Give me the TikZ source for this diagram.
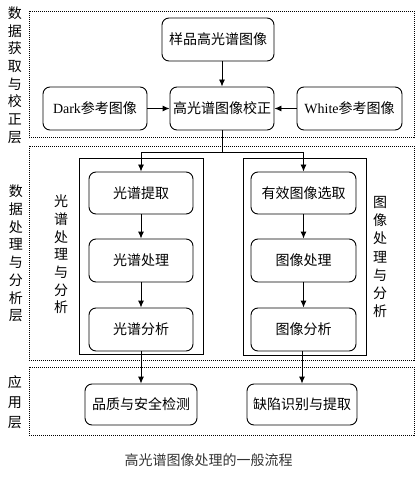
\documentclass[tikz,border=0pt]{standalone}
\usepackage{fontspec}
\setmainfont{Liberation Serif}
\newfontfamily\cjk{Noto Sans CJK SC}
\usetikzlibrary{arrows.meta}
\begin{document}
\begin{tikzpicture}[x=1pt,y=-1pt,
  box/.style={draw, rounded corners=7pt, line width=0.9pt, minimum height=43pt, inner sep=0pt, font=\cjk\fontsize{14}{16}\selectfont},
  layer/.style={draw, dash pattern=on 1pt off 1pt, line width=0.9pt},
  frame/.style={draw, line width=0.9pt},
  conn/.style={line width=0.9pt, -{Latex[length=7pt,width=6pt]}},
  vlab/.style={align=center, inner sep=0pt, font=\cjk\fontsize{14}{17.7}\selectfont}
]
\useasboundingbox (0,0) rectangle (419,478);
% layers
\draw[layer] (29,11) rectangle (414,137);
\draw[layer] (29,146) rectangle (414,360);
\draw[layer] (29,367) rectangle (414,435);
\node[vlab] (l1) at (15,75) {数\\据\\获\\取\\与\\校\\正\\层};
\node[vlab] (l2) at (16,253.5) {数\\据\\处\\理\\与\\分\\析\\层};
\node[vlab, font=\cjk\fontsize{14}{20}\selectfont] (l3) at (15,402) {应\\用\\层};
% inner frames
\draw[frame] (79,158) rectangle (203,354);
\draw[frame] (243,158) rectangle (366,355);
\node[vlab] (il) at (61,254.5) {光\\谱\\处\\理\\与\\分\\析};
\node[vlab, font=\cjk\fontsize{14}{18.3}\selectfont] (ir) at (380,257) {图\\像\\处\\理\\与\\分\\析};
% boxes
\node[box, minimum width=112pt] (yp) at (218,39.5) {样品高光谱图像};
\node[box, minimum width=104pt] (dk) at (95,108.5) {{\rmfamily Dark}参考图像};
\node[box, minimum width=104pt] (jz) at (222,108.5) {高光谱图像校正};
\node[box, minimum width=105pt] (wh) at (349.5,108.5) {{\rmfamily White}参考图像};
\node[box, minimum width=104pt, minimum height=42pt] (gt) at (141,193) {光谱提取};
\node[box, minimum width=104pt] (gc) at (141,260.5) {光谱处理};
\node[box, minimum width=104pt] (gf) at (141,329.5) {光谱分析};
\node[box, minimum width=105pt, minimum height=42pt] (yx) at (303.5,193) {有效图像选取};
\node[box, minimum width=105pt] (tc) at (303.5,260.5) {图像处理};
\node[box, minimum width=105pt] (tf) at (303.5,329.5) {图像分析};
\node[box, minimum width=112pt, minimum height=41pt] (pz) at (141,404.5) {品质与安全检测};
\node[box, minimum width=110pt, minimum height=41pt] (qx) at (302,404.5) {缺陷识别与提取};
% connectors
\draw[conn] (yp.south -| jz.north) -- (jz.north);
\draw[conn] (dk.east) -- (jz.west);
\draw[conn] (wh.west) -- (jz.east);
\coordinate (split) at (222,152);
\draw[line width=0.9pt] (jz.south) -- (split);
\draw[conn] (split) -| (gt.north);
\draw[conn] (split) -| (yx.north);
\draw[conn] (gt) -- (gc);
\draw[conn] (gc) -- (gf);
\draw[conn] (yx) -- (tc);
\draw[conn] (tc) -- (tf);
\draw[conn] (gf.south) -- (pz.north);
\draw[conn] (tf.south -| qx.north) -- (qx.north);
% caption
\node[font=\cjk\fontsize{14}{16}\selectfont, text=black!80, inner sep=0pt] (cap) at (208.5,460) {高光谱图像处理的一般流程};
\end{tikzpicture}
\end{document}
